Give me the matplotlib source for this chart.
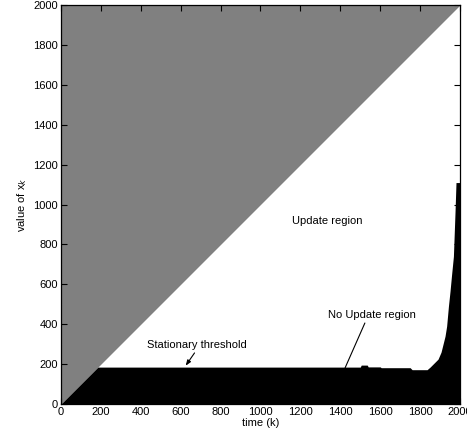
import numpy as np
import matplotlib.pyplot as plt

plt.rcParams['font.family'] = ['Liberation Sans', 'DejaVu Sans']

# threshold curve (upper edge of the black "no update" area)
k_pts = [0, 185, 1500, 1505, 1535, 1540, 1600, 1605, 1750, 1760, 1835, 1850,
         1870, 1890, 1905, 1915, 1925, 1933, 1942, 1950, 1958, 1967, 1975,
         1980, 2000]
thresh = [0, 185, 185, 195, 195, 186, 186, 182, 182, 172, 172, 185,
          205, 225, 260, 300, 340, 390, 490, 565, 650, 740, 960,
          1110, 1110]

diag = [0, 2000]
ticks = list(range(0, 2001, 200))

fig = plt.figure(figsize=(4.67, 4.38), dpi=100)
ax = fig.add_axes([0.1306, 0.0776, 0.8544, 0.911])

# gray area above the diagonal
ax.fill_between(diag, diag, [2000, 2000], color='#808080', lw=0)
# black area below the threshold
ax.fill_between(k_pts, 0, thresh, color='black', lw=0)

ax.set_xlim(0, 2000)
ax.set_ylim(0, 2000)
ax.set_xticks(ticks)
ax.set_yticks(ticks)
ax.tick_params(direction='in', length=4, width=0.8, labelsize=8,
               top=True, right=True, pad=2)
for s in ax.spines.values():
    s.set_linewidth(0.9)

ax.set_xlabel('time (k)', fontsize=8, labelpad=1)
ax.set_ylabel('value of x$_k$', fontsize=8, labelpad=3)

ax.text(1156, 917, 'Update region', fontsize=8, va='center')
ax.annotate('No Update region', xy=(1424, 181), xytext=(1340, 445),
            fontsize=8, va='center',
            arrowprops=dict(arrowstyle='-', lw=0.8, color='black',
                            shrinkA=0, shrinkB=0,
                            relpos=(0.43, 0)))
ax.annotate('Stationary threshold', xy=(625, 192), xytext=(429, 295),
            fontsize=8, va='center',
            arrowprops=dict(arrowstyle='-|>,head_length=0.4,head_width=0.15',
                            lw=0.8, color='black', shrinkA=0, shrinkB=0,
                            relpos=(0.5, 0)))

fig.savefig('out.png', dpi=100)
